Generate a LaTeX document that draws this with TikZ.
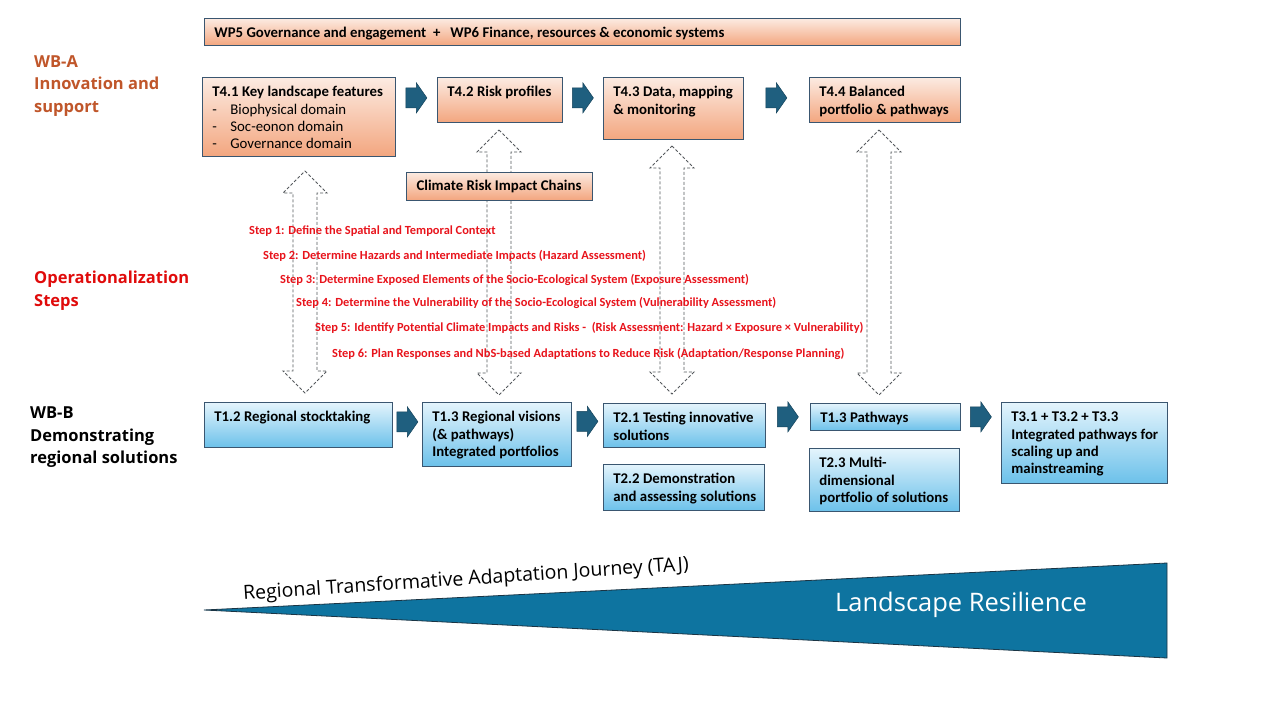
\documentclass[tikz,border=0pt]{standalone}
\usepackage{fontspec}
\setmainfont{Carlito}
\newfontfamily\opensans{Open Sans}
\usetikzlibrary{calc}

\definecolor{orTop}{HTML}{FCEBE2}
\definecolor{orBot}{HTML}{F3A67F}
\definecolor{blTop}{HTML}{E4F4FC}
\definecolor{blBot}{HTML}{6CC1EA}
\definecolor{boxEdge}{HTML}{3A5670}
\definecolor{arrFill}{HTML}{1F5F7F}
\definecolor{arrEdge}{HTML}{16445C}
\definecolor{dashGray}{HTML}{54585C}
\definecolor{stepRed}{HTML}{E8141C}
\definecolor{opsRed}{HTML}{E00B0B}
\definecolor{wbaBrown}{HTML}{C0562A}
\definecolor{tajBlue}{HTML}{0E74A0}
\definecolor{tajEdge}{HTML}{1A3444}

% text block of a task box: width, height, text
\newcommand{\cell}[3]{\begin{minipage}[t][#2pt][t]{#1pt}\raggedright\leftskip=10pt\rule{0pt}{19.5pt}#3\end{minipage}}
\newcommand{\listitem}[1]{{\mdseries\makebox[18pt][l]{-}#1}}

\tikzset{
  box/.style={draw=boxEdge,line width=0.8pt,anchor=north west,inner sep=0pt,
    font=\bfseries\fontsize{14.8}{17.3}\selectfont},
  obox/.style={box,top color=orTop,bottom color=orBot},
  bbox/.style={box,top color=blTop,bottom color=blBot},
  blockarr/.style={draw=arrEdge,fill=arrFill,line width=0.5pt,line join=miter},
  dblline/.style={draw=dashGray,line width=0.9pt,dash pattern=on 3pt off 2pt},
  steptxt/.style={anchor=base west,inner sep=0pt,text=stepRed,
    font=\bfseries\fontsize{12.4}{14}\selectfont},
  side/.style={anchor=north west,inner sep=0pt,align=left,
    font=\opensans\bfseries\fontsize{16.5}{22.5}\selectfont}
}

% block arrow centred on a coordinate
\newcommand{\blockarrow}[1]{\path[blockarr] ($(#1)+(-10.5,-10)$) -- ++(10.5,0)
  -- ++(0,-5) -- ++(10.5,15) -- ++(-10.5,15) -- ++(0,-5) -- ++(-10.5,0) -- cycle;}
% double headed dashed arrow from top tip to bottom tip
\newcommand{\dblarrow}[2]{\path[dblline] (#1) -- ++(22,22) -- ++(-10,0)
  -- ($(#2)+(12,-22)$) -- ++(10,0) -- (#2) -- ++(-22,-22) -- ++(10,0)
  -- ($(#1)+(-12,22)$) -- ++(-10,0) -- cycle;}

\begin{document}
\begin{tikzpicture}[x=1pt,y=-1pt]
\useasboundingbox[fill=white] (0,0) rectangle (1280,720);

% side labels
\node[side,text=wbaBrown] (wba) at (34,55) {WB-A\\Innovation and\\support};
\node[side,text=opsRed] (ops) at (34,271) {Operationalization\\Steps};
\node[side,text=black] (wbb) at (30,407) {WB-B\\Demonstrating\\regional solutions};

% WB-A tasks
\node[obox] (wp) at (204,18) {\cell{756}{27}{WP5 Governance and engagement~~+~~~WP6 Finance, resources \& economic systems}};
\node[obox] (t41) at (202,77) {\cell{193}{79}{T4.1 Key landscape features\\
  \listitem{Biophysical domain}\\ \listitem{Soc-eonon domain}\\ \listitem{Governance domain}}};
\node[obox] (t42) at (437,77) {\cell{125}{45}{T4.2 Risk profiles}};
\node[obox] (t43) at (603,77) {\cell{140}{62}{T4.3 Data, mapping\\\& monitoring}};
\node[obox] (t44) at (809,77) {\cell{151}{45}{T4.4 Balanced\\portfolio \& pathways}};

% WB-B tasks
\node[bbox] (t12) at (204,402) {\cell{188}{45}{T1.2 Regional stocktaking}};
\node[bbox] (t13) at (422,402) {\cell{149}{64}{T1.3 Regional visions\\(\& pathways)\\Integrated portfolios}};
\node[bbox] (t21) at (603,403) {\cell{162}{44}{T2.1 Testing innovative\\solutions}};
\node[bbox] (t22) at (603,464) {\cell{161}{46}{T2.2 Demonstration\\and assessing solutions}};
\node[bbox] (t13p) at (810,403) {\cell{150}{27}{T1.3 Pathways}};
\node[bbox] (t23) at (809,448) {\cell{150}{63}{T2.3 Multi-\\dimensional\\portfolio of solutions}};
\node[bbox] (t3x) at (1001,402) {\cell{166}{81}{T3.1 + T3.2 + T3.3\\Integrated pathways for\\scaling up and\\mainstreaming}};

% block arrows between tasks
\coordinate (a1) at ($(t41.east|-t42.west)!0.5!(t42.west)+(0,-2)$);
\coordinate (a2) at ($(t42.east)!0.5!(t43.west|-t42.east)+(0,-2)$);
\coordinate (a3) at ($(t43.east|-t44.west)!0.5!(t44.west)+(0,-2)$);
\coordinate (a4) at ($(t12.east)!0.5!(t13.west|-t12.east)+(0,-3)$);
\coordinate (a5) at ($(t13.east|-t21.west)!0.5!(t21.west)+(0,-4)$);
\coordinate (a6) at ($(t21.east|-t13p.west)!0.5!(t13p.west)$);
\coordinate (a7) at ($(t13p.east)!0.5!(t3x.west|-t13p.east)$);
\foreach \a in {a1,a2,a3,a4,a5,a6,a7} {\blockarrow{\a}}

% links WB-A <-> WB-B
\coordinate (d1t) at (305,171); \coordinate (d1b) at (305,393);
\coordinate (d2t) at (499,130); \coordinate (d2b) at (499,395);
\coordinate (d3t) at (672,146); \coordinate (d3b) at (672,394);
\coordinate (d4t) at (879,130); \coordinate (d4b) at (879,395);
\dblarrow{d1t}{d1b}
\dblarrow{d2t}{d2b}
\dblarrow{d3t}{d3b}
\dblarrow{d4t}{d4b}

\node[draw=boxEdge,line width=0.8pt,top color=orTop,bottom color=orBot,
  minimum width=186pt,minimum height=28pt,inner sep=0pt,
  font=\bfseries\fontsize{14.8}{17}\selectfont] (crc) at (499,186) {Climate Risk Impact Chains};

% operationalization steps
\node[steptxt] (s1) at (249,234) {Step 1: Define the Spatial and Temporal Context};
\node[steptxt] (s2) at (263,259) {Step 2: Determine Hazards and Intermediate Impacts (Hazard Assessment)};
\node[steptxt] (s3) at (280,283) {Step 3: Determine Exposed Elements of the Socio-Ecological System (Exposure Assessment)};
\node[steptxt] (s4) at (296,306) {Step 4: Determine the Vulnerability of the Socio-Ecological System (Vulnerability Assessment)};
\node[steptxt] (s5) at (315,331) {Step 5: Identify Potential Climate Impacts and Risks -~~(Risk Assessment: Hazard × Exposure × Vulnerability)};
\node[steptxt] (s6) at (332,357) {Step 6: Plan Responses and NbS-based Adaptations to Reduce Risk (Adaptation/Response Planning)};

% adaptation journey wedge
\draw[fill=tajBlue,draw=tajEdge,line width=0.8pt] (204,610) -- (1167,563) -- (1167,658) -- cycle;
\node[text=white,font=\opensans\fontsize{25.5}{29}\selectfont] (resil) at (961,605) {Landscape Resilience};
\node[rotate=3.8,font=\opensans\fontsize{19.5}{23}\selectfont] (taj) at (466,580) {Regional Transformative Adaptation Journey (TAJ)};
\end{tikzpicture}
\end{document}
